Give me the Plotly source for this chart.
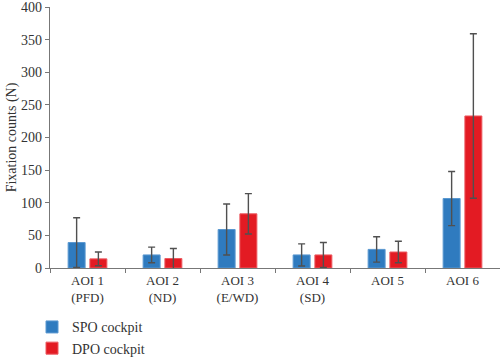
import plotly.graph_objects as go

categories = ["AOI 1<br>(PFD)", "AOI 2<br>(ND)", "AOI 3<br>(E/WD)", "AOI 4<br>(SD)", "AOI 5", "AOI 6"]
spo_values = [39, 20, 59, 20, 28.5, 106.5]
spo_errors = [38, 12, 39, 17, 19.5, 41.5]
dpo_values = [14, 14.5, 83, 20, 24.5, 233]
dpo_errors = [10.5, 15.5, 31, 19, 16.5, 126]
y_ticks = [0, 50, 100, 150, 200, 250, 300, 350, 400]

FONT = "Liberation Serif"
err_style = dict(type="data", visible=True, color="#505050", thickness=1.4, width=3.5)

fig = go.Figure()
fig.add_trace(go.Bar(
    name="SPO cockpit", x=categories, y=spo_values,
    error_y=dict(array=spo_errors, **err_style),
    marker=dict(color="#2F7BBF", line=dict(color="#5A98D0", width=1)),
))
fig.add_trace(go.Bar(
    name="DPO cockpit", x=categories, y=dpo_values,
    error_y=dict(array=dpo_errors, **err_style),
    marker=dict(color="#E31B23", line=dict(color="#EC5A60", width=1)),
))

fig.update_layout(
    width=500, height=358,
    margin=dict(l=50, r=0, t=7, b=90, autoexpand=False),
    paper_bgcolor="white", plot_bgcolor="white",
    barmode="group", bargap=0.42, bargroupgap=0.22,
    font=dict(family=FONT, size=13, color="#333333"),
    showlegend=True,
    legend=dict(
        orientation="v", x=-0.04, xanchor="left", y=-0.166, yanchor="top",
        font=dict(family=FONT, size=14, color="#333333"),
        itemwidth=30, tracegroupgap=0, bgcolor="rgba(0,0,0,0)",
    ),
)
fig.update_yaxes(
    range=[0, 400], tickvals=y_ticks, showgrid=False, zeroline=False,
    automargin=False,
    showline=True, linecolor="#777777", linewidth=1.2,
    ticks="outside", ticklen=4, tickcolor="#777777", tickwidth=1.2,
    ticklabeloverflow="allow",
    tickfont=dict(family=FONT, size=14, color="#333333"),
    title=dict(text="Fixation counts (N)", font=dict(family=FONT, size=14, color="#333333"), standoff=1),
)
fig.update_xaxes(
    showgrid=False, showline=True, linecolor="#777777", linewidth=1.2,
    automargin=False,
    ticks="outside", tickson="boundaries", ticklen=4, tickcolor="#777777", tickwidth=1.2,
    tickfont=dict(family=FONT, size=13, color="#333333"),
)

fig.write_html(
    "out.html",
    config={"displayModeBar": False},
    post_script="document.body.style.margin='0';document.body.style.padding='0';",
)
